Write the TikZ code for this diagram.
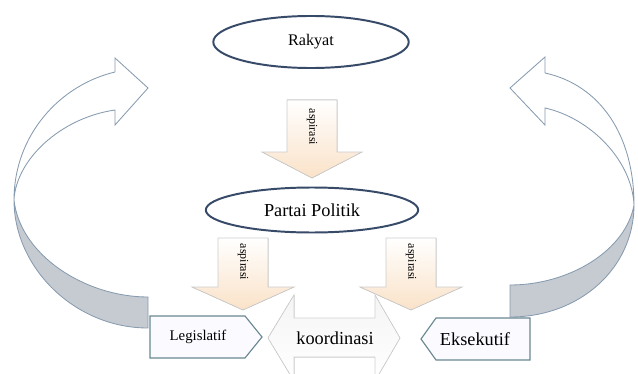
\documentclass[tikz,border=0pt]{standalone}
\usepackage{fontspec}
\setmainfont{Liberation Serif}
\usetikzlibrary{shapes.geometric}
\definecolor{elips}{RGB}{55,75,105}
\definecolor{garis}{RGB}{135,155,175}
\definecolor{pita}{RGB}{198,203,210}
\definecolor{jingga}{RGB}{250,226,200}
\definecolor{kotak}{RGB}{105,135,145}
\begin{document}
\begin{tikzpicture}[x=.025cm,y=-.025cm,
  elip/.style={ellipse,draw=elips,line width=1.4pt,fill=white,inner sep=0pt},
  panah/.style={draw=black!20,top color=white,bottom color=jingga,line width=.5pt},
  geser/.style={draw=black!18,top color=black!4,bottom color=white,line width=.5pt},
  lengkung/.style={draw=garis,line width=.6pt},
  lembaga/.style={draw=kotak,fill=blue!2,line width=.8pt},
  tulis/.style={font=\fontsize{8.5}{9}\selectfont,rotate=-90}]
\useasboundingbox (0,0) rectangle (638,374);
% panah melengkung kiri dan kanan
\filldraw[lengkung,fill=white] (115,72) -- (115,58) -- (148,88) -- (115,125) -- (115,110) .. controls (60,118) and (16,160) .. (14,200) .. controls (14,135) and (60,85) .. (115,72);
\filldraw[lengkung,fill=pita] (14,200) .. controls (14,268) and (75,328) .. (148,328) -- (148,297) .. controls (85,297) and (20,255) .. (14,200);
\filldraw[lengkung,fill=white] (545,73) -- (545,57) -- (510,88) -- (545,125) -- (545,108) .. controls (590,118) and (632,160) .. (634,205) .. controls (634,135) and (600,85) .. (545,73);
\filldraw[lengkung,fill=pita] (634,205) .. controls (634,268) and (580,317) .. (510,317) -- (510,285) .. controls (570,285) and (626,250) .. (634,205);
% aspirasi
\filldraw[panah] (287,100) -- (337,100) -- (337,152) -- (362,152) -- (312,178) -- (262,152) -- (287,152) -- cycle;
\filldraw[panah] (218,238) -- (268,238) -- (268,287) -- (294,287) -- (243,310) -- (192,287) -- (218,287) -- cycle;
\filldraw[panah] (386,238) -- (436,238) -- (436,287) -- (462,287) -- (411,310) -- (360,287) -- (386,287) -- cycle;
\node[tulis] (asp1) at (312,127) {aspirasi};\node[tulis] (asp2) at (243,262) {aspirasi};\node[tulis] (asp3) at (411,262) {aspirasi};
\node[elip,minimum width=139pt,minimum height=37pt,font=\fontsize{11.5}{13}\selectfont] (rakyat) at (311,42) {Rakyat};
\node[elip,minimum width=151pt,minimum height=32pt,font=\fontsize{13}{15}\selectfont] (partai) at (312,210) {Partai Politik};
% koordinasi
\filldraw[geser] (268,338) -- (294,295) -- (294,318) -- (375,318) -- (375,295) -- (400,338) -- (375,381) -- (375,357) -- (294,357) -- (294,381) -- cycle;
\node[font=\fontsize{13}{15}\selectfont] (koor) at (335,338) {koordinasi};
\filldraw[lembaga] (150,316) -- (245,316) -- (262,337) -- (245,358) -- (150,358) -- cycle;\node[font=\fontsize{10.5}{12}\selectfont] (leg) at (198,337) {Legislatif};
\filldraw[lembaga] (530,318) -- (436,318) -- (421,339) -- (436,360) -- (530,360) -- cycle;\node[font=\fontsize{13}{15}\selectfont] (eks) at (475,339) {Eksekutif};
\end{tikzpicture}
\end{document}
